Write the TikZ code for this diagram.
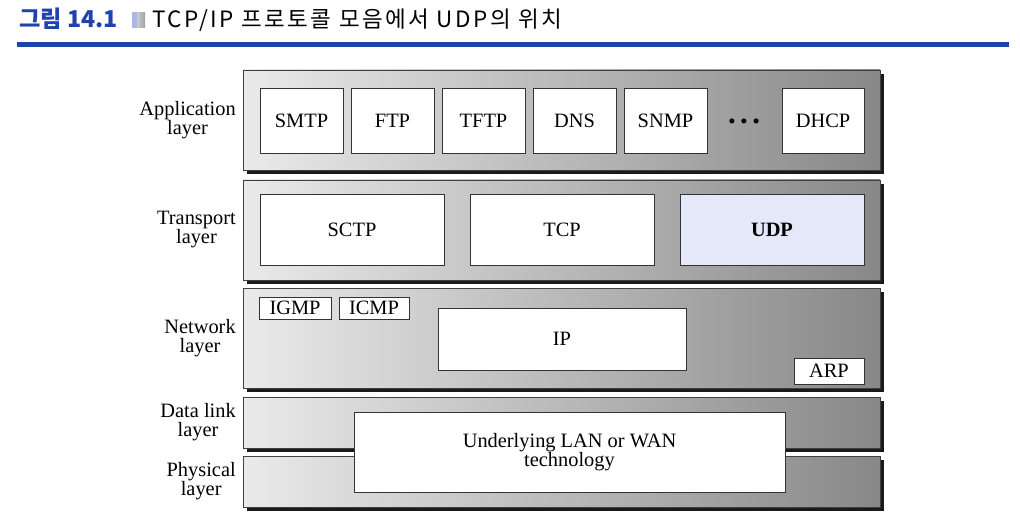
\documentclass[tikz,border=0pt]{standalone}
\usepackage{fontspec}
\setmainfont{Liberation Serif}
\newfontfamily\krfont[LetterSpace=11]{Noto Sans CJK KR}
\newfontfamily\krnum{Noto Sans CJK KR}
\usetikzlibrary{shadows}
\definecolor{figblue}{HTML}{2142A8}
\definecolor{udpfill}{HTML}{E4E8F8}
\definecolor{barlight}{HTML}{EAEAEA}
\definecolor{bardark}{HTML}{888888}
\definecolor{barshadow}{HTML}{1A1A1A}
\definecolor{iconblue}{HTML}{A8B8E6}
\newcommand\tightlines{\fontsize{14.5}{13.2}\selectfont\lineskiplimit=-1pt\relax}

\begin{document}
\begin{tikzpicture}[x=1mm,y=-1mm,font=\fontsize{14.5}{12.5}\selectfont,
 layer/.style={draw=black!75,line width=.5pt,left color=barlight,right color=bardark,
   minimum width=159.25mm,inner sep=0pt,
   drop shadow={shadow xshift=1mm,shadow yshift=-1mm,fill=barshadow,opacity=1}},
 proto/.style={draw=black!80,fill=white,line width=.5pt,inner sep=0pt,align=center},
 tight/.style={font=\tightlines},
 lbl/.style={tight,anchor=east,align=center,inner sep=0pt},
 head/.style={anchor=base west,inner sep=0pt,font=\krfont\fontsize{16}{18}\selectfont}]
\useasboundingbox (0,0) rectangle (255,130);

% caption line on top
\node[head,text=figblue,font=\krnum\bfseries\fontsize{16.5}{18}\selectfont] (fignum) at (4.75,7) {그림 14.1};
\fill[iconblue] (33,3.1) rectangle (34.3,7);
\shade[left color=gray!40,right color=gray!75] (34.3,3.1) rectangle (36.3,7);
\node[head] (figtitle) at (38,7) {TCP/IP 프로토콜 모음에서 UDP의 위치};
\fill[figblue] (4.25,10.5) rectangle (252.25,11.8);

% the five layers
\node[layer,minimum height=25mm] (app) at (140.375,30) {};
\node[layer,minimum height=25mm] (tra) at (140.375,57.5) {};
\node[layer,minimum height=25mm] (net) at (140.375,84.5) {};
\node[layer,minimum height=12.75mm] (dll) at (140.375,105.625) {};
\node[layer,minimum height=12.75mm] (phy) at (140.375,120.375) {};

\node[lbl] (lapp) at (59,30) {Application\\layer};
\node[lbl] (ltra) at (59,57.4) {Transport\\layer};
\node[lbl] (lnet) at (59,84.5) {Network\\layer};
\node[lbl] (ldll) at (59,105.6) {Data link\\layer};
\node[lbl] (lphy) at (59,120.3) {Physical\\layer};

% application protocols
\foreach \k/\pname in {0/SMTP,1/FTP,2/TFTP,3/DNS,4/SNMP}
  \node[proto,minimum width=20.75mm,minimum height=16.25mm] (\pname) at (75.375+22.75*\k,30.125) {\pname};
\node[font=\bfseries\fontsize{22}{22}\selectfont,inner sep=0pt] (dots) at (186,30.3) {.\hspace{1.1mm}.\hspace{1.1mm}.};
\node[proto,minimum width=20.5mm,minimum height=16.25mm] (DHCP) at (205.75,30.125) {DHCP};

% transport protocols
\node[proto,minimum width=46mm,minimum height=17.75mm] (SCTP) at (88,57.375) {SCTP};
\node[proto,minimum width=46mm,minimum height=17.75mm] (TCP) at (140.5,57.375) {TCP};
\node[proto,fill=udpfill,minimum width=46mm,minimum height=17.75mm] (UDP) at (193,57.375) {\textbf{UDP}};

% network protocols
\node[proto,minimum width=18mm,minimum height=5.5mm] (IGMP) at (73.75,77) {IGMP};
\node[proto,minimum width=17.5mm,minimum height=5.5mm] (ICMP) at (93.5,77) {ICMP};
\node[proto,minimum width=62mm,minimum height=15.5mm] (IP) at (140.5,84.75) {IP};
\node[proto,minimum width=17.5mm,minimum height=6.5mm] (ARP) at (207.25,92.75) {ARP};

% lower two layers
\node[proto,tight,minimum width=107.75mm,minimum height=20mm] (lanwan) at (142.375,113) {Underlying LAN or WAN\\technology};
\end{tikzpicture}
\end{document}
